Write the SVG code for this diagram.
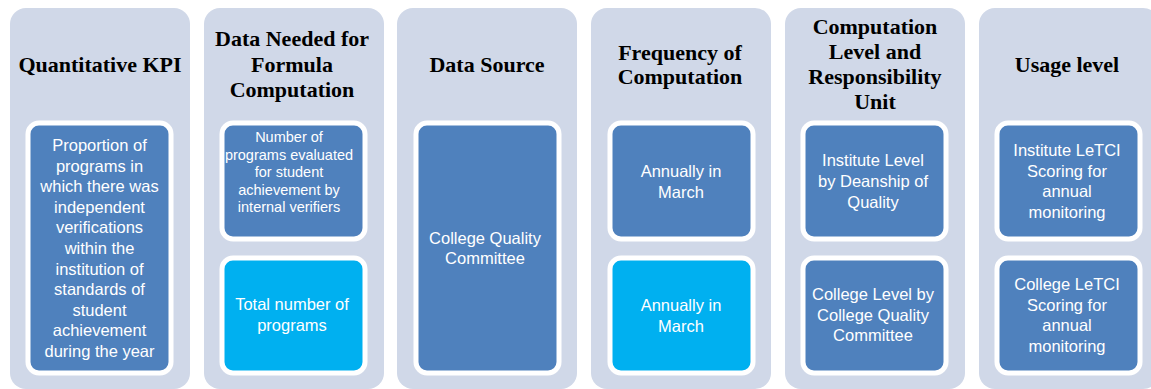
<svg xmlns="http://www.w3.org/2000/svg" width="1151" height="389" viewBox="0 0 1151 389">
<style>
.col{fill:#D0D8E8;}
.box{fill:#4F81BD;stroke:#FFFFFF;stroke-width:5;}
.cyan{fill:#00B0F0;stroke:#FFFFFF;stroke-width:5;}
.hd{font-family:"Liberation Serif","Times New Roman",serif;font-weight:bold;font-size:22px;fill:#000;text-anchor:middle;}
.tx{font-family:"Liberation Sans",Arial,sans-serif;font-size:16.5px;fill:#FFFFFF;text-anchor:middle;}
.sm{font-size:14.5px;}
</style>
<rect width="1151" height="389" fill="#FFFFFF"/>
<g id="col1">
<rect class="col" x="10" y="8" width="180" height="381" rx="16"/>
<text class="hd" x="100" y="72">Quantitative KPI</text>
<rect class="box" x="28" y="123" width="143" height="250" rx="11"/>
<text class="tx" x="99.5"><tspan x="99.5" y="151">Proportion of</tspan><tspan x="99.5" y="171.6">programs in</tspan><tspan x="99.5" y="192.2">which there was</tspan><tspan x="99.5" y="212.8">independent</tspan><tspan x="99.5" y="233.4">verifications</tspan><tspan x="99.5" y="254">within the</tspan><tspan x="99.5" y="274.6">institution of</tspan><tspan x="99.5" y="295.2">standards of</tspan><tspan x="99.5" y="315.8">student</tspan><tspan x="99.5" y="336.4">achievement</tspan><tspan x="99.5" y="357">during the year</tspan></text>
</g>
<g id="col2">
<rect class="col" x="204" y="8" width="180" height="381" rx="16"/>
<text class="hd"><tspan x="292" y="46">Data Needed for</tspan><tspan x="292" y="71.5">Formula</tspan><tspan x="292" y="97">Computation</tspan></text>
<rect class="box" x="222" y="123" width="143" height="116" rx="11"/>
<text class="tx sm"><tspan x="289" y="142">Number of</tspan><tspan x="289" y="159.5">programs evaluated</tspan><tspan x="289" y="177">for student</tspan><tspan x="289" y="194.5">achievement by</tspan><tspan x="289" y="212">internal verifiers</tspan></text>
<rect class="cyan" x="222" y="258" width="143" height="115" rx="11"/>
<text class="tx"><tspan x="292" y="310">Total number of</tspan><tspan x="292" y="331">programs</tspan></text>
</g>
<g id="col3">
<rect class="col" x="397" y="8" width="180" height="381" rx="16"/>
<text class="hd" x="487" y="72">Data Source</text>
<rect class="box" x="416" y="123" width="143" height="250" rx="11"/>
<text class="tx"><tspan x="485" y="244">College Quality</tspan><tspan x="485" y="264">Committee</tspan></text>
</g>
<g id="col4">
<rect class="col" x="591" y="8" width="180" height="381" rx="16"/>
<text class="hd"><tspan x="680" y="60">Frequency of</tspan><tspan x="680" y="84">Computation</tspan></text>
<rect class="box" x="610" y="123" width="143" height="116" rx="11"/>
<text class="tx"><tspan x="681" y="177">Annually in</tspan><tspan x="681" y="198">March</tspan></text>
<rect class="cyan" x="610" y="258" width="143" height="115" rx="11"/>
<text class="tx"><tspan x="681" y="311">Annually in</tspan><tspan x="681" y="332">March</tspan></text>
</g>
<g id="col5">
<rect class="col" x="785" y="8" width="180" height="381" rx="16"/>
<text class="hd"><tspan x="875" y="34">Computation</tspan><tspan x="875" y="59">Level and</tspan><tspan x="875" y="84">Responsibility</tspan><tspan x="875" y="109">Unit</tspan></text>
<rect class="box" x="803" y="123" width="143" height="116" rx="11"/>
<text class="tx"><tspan x="873" y="166">Institute Level</tspan><tspan x="873" y="187">by Deanship of</tspan><tspan x="873" y="208">Quality</tspan></text>
<rect class="box" x="803" y="258" width="143" height="115" rx="11"/>
<text class="tx"><tspan x="873" y="300">College Level by</tspan><tspan x="873" y="321">College Quality</tspan><tspan x="873" y="341">Committee</tspan></text>
</g>
<g id="col6">
<rect class="col" x="979" y="8" width="180" height="381" rx="16"/>
<text class="hd" x="1067" y="72">Usage level</text>
<rect class="box" x="997" y="123" width="143" height="116" rx="11"/>
<text class="tx"><tspan x="1067" y="156">Institute LeTCI</tspan><tspan x="1067" y="177">Scoring for</tspan><tspan x="1067" y="197">annual</tspan><tspan x="1067" y="218">monitoring</tspan></text>
<rect class="box" x="997" y="258" width="143" height="115" rx="11"/>
<text class="tx"><tspan x="1067" y="290">College LeTCI</tspan><tspan x="1067" y="311">Scoring for</tspan><tspan x="1067" y="331">annual</tspan><tspan x="1067" y="352">monitoring</tspan></text>
</g>
<g id="connectors"></g>
</svg>
